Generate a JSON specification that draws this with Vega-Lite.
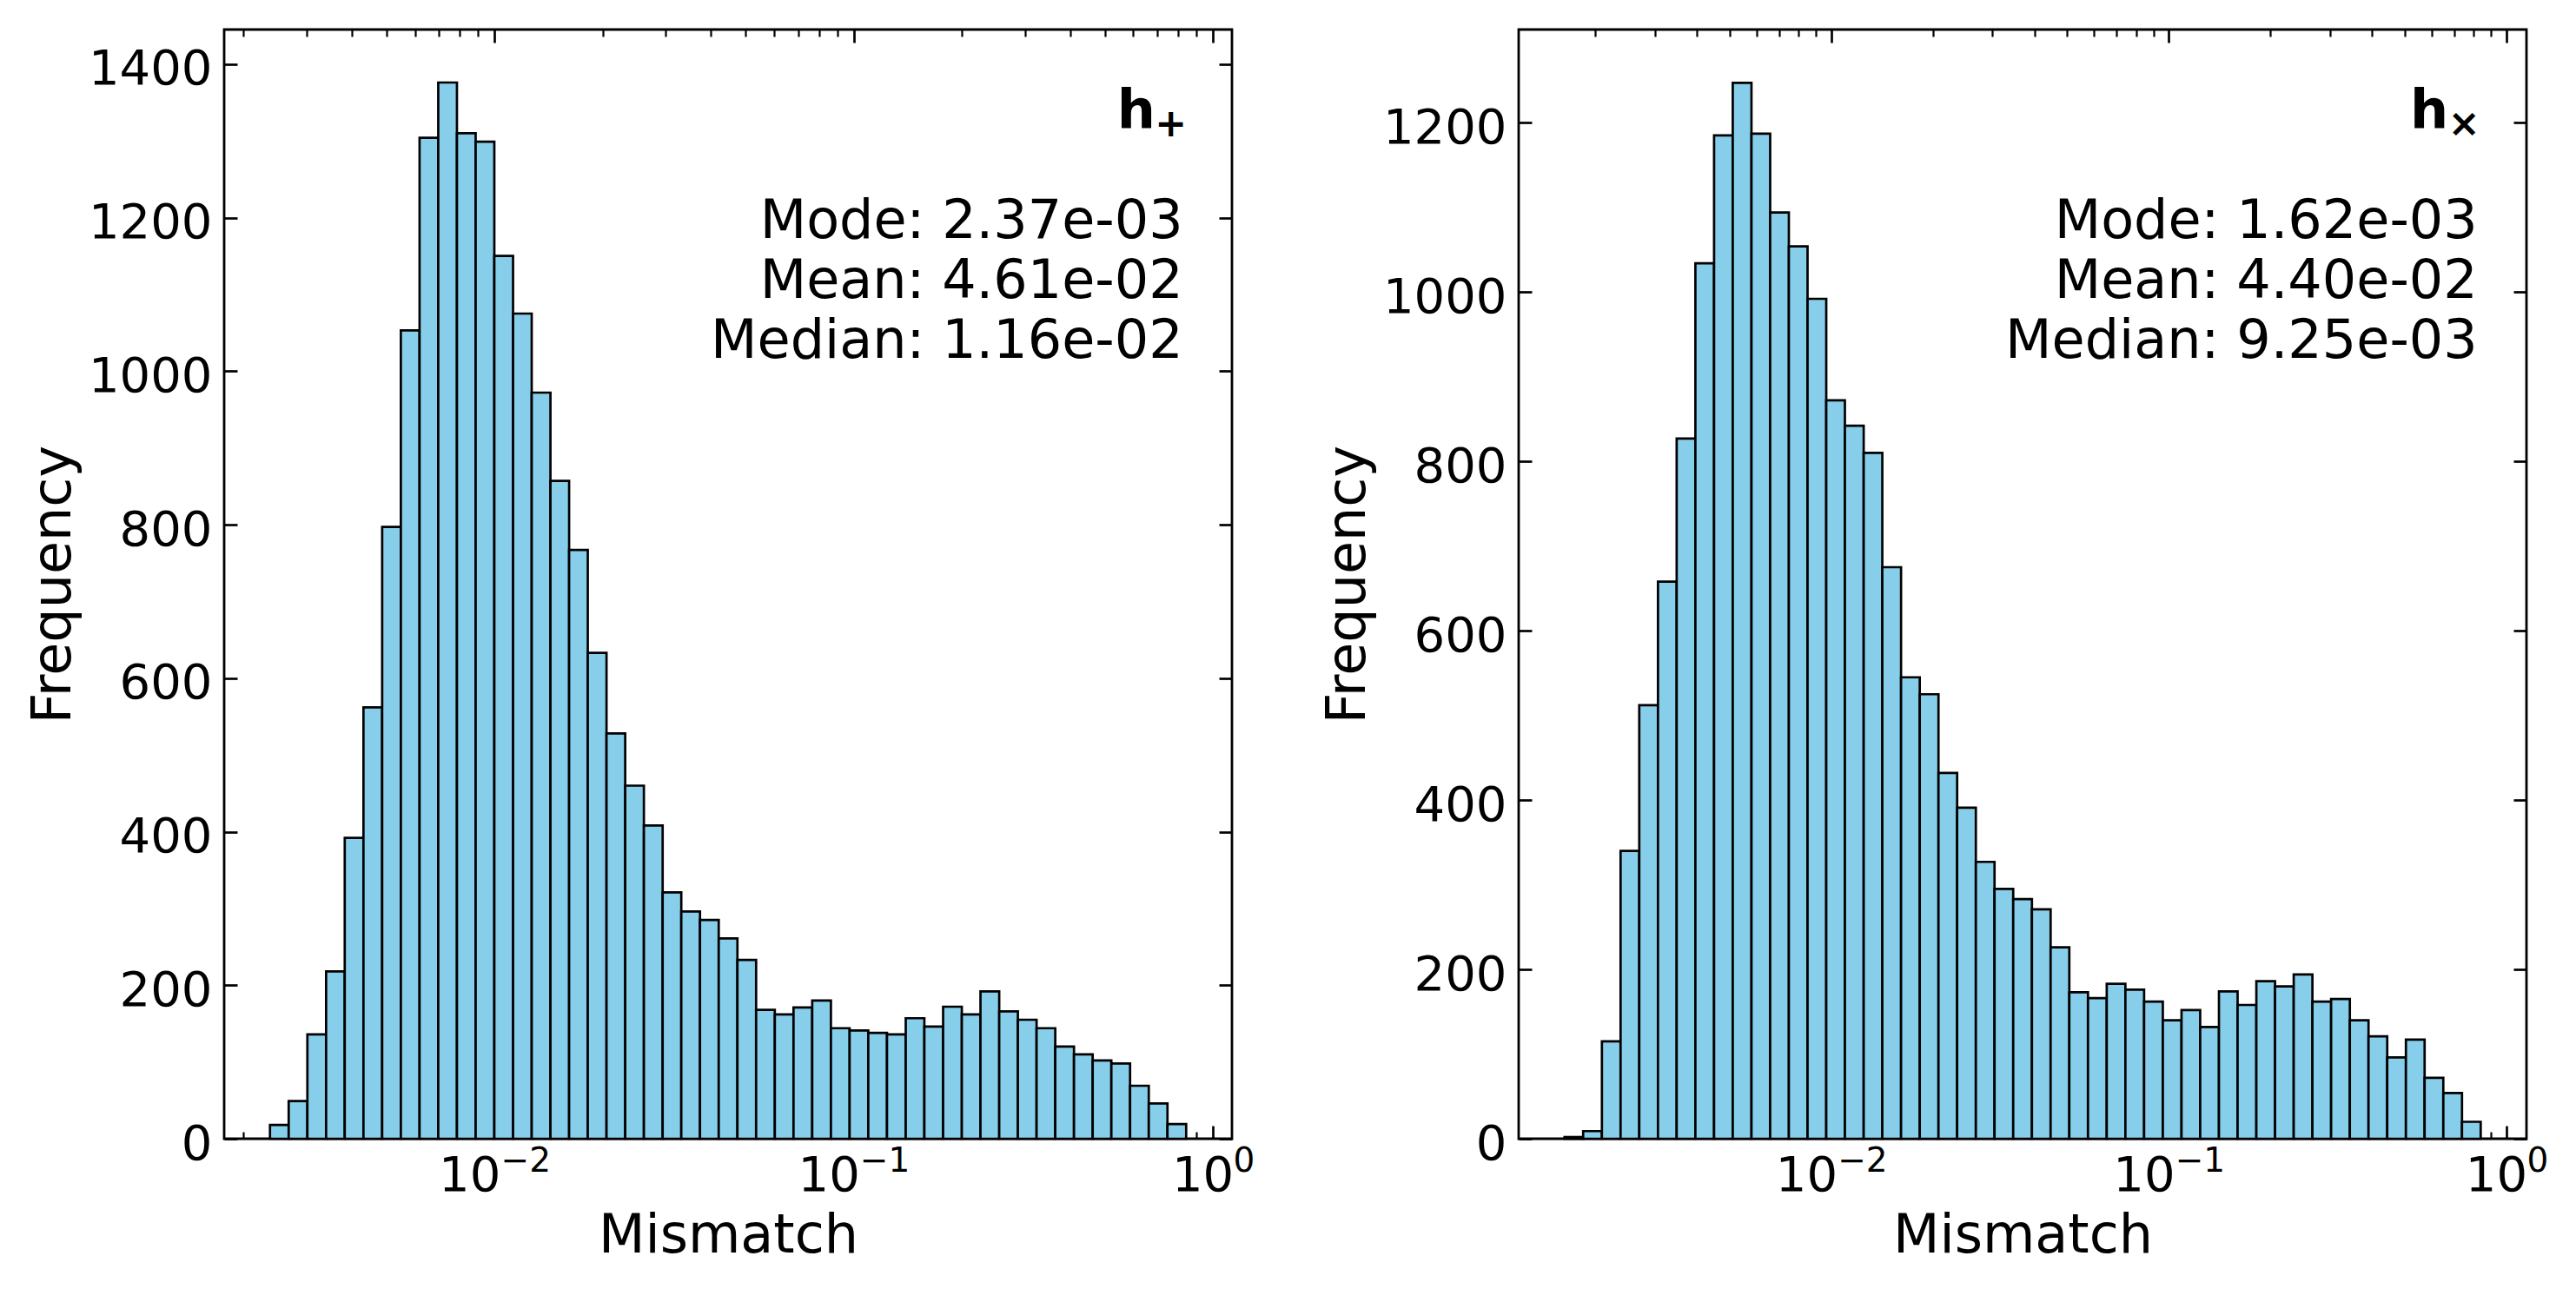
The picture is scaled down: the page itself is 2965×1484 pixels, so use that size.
{
  "$schema": "https://vega.github.io/schema/vega-lite/v6.json",
  "background": "white",
  "padding": {"left": 29, "top": 31, "right": 50, "bottom": 30},
  "bounds": "flush",
  "spacing": 330,
  "config": {
    "font": "DejaVu Sans",
    "view": {"stroke": "black", "strokeWidth": 2.8},
    "axis": {
      "labelFont": "DejaVu Sans", "titleFont": "DejaVu Sans",
      "labelColor": "black", "titleColor": "black", "tickColor": "black",
      "grid": false, "domain": false, "tickWidth": 2.7, "zindex": 1,
      "labelFontSize": 56, "titleFontSize": 62, "titleFontWeight": "normal",
      "labelFlush": false, "labelOverlap": false
    }
  },
  "datasets": {
    "hplus": [
      {"lo": 0.002370, "hi": 0.002672, "count": 18},
      {"lo": 0.002672, "hi": 0.003012, "count": 49},
      {"lo": 0.003012, "hi": 0.003396, "count": 136},
      {"lo": 0.003396, "hi": 0.003827, "count": 218},
      {"lo": 0.003827, "hi": 0.004315, "count": 392},
      {"lo": 0.004315, "hi": 0.004865, "count": 562},
      {"lo": 0.004865, "hi": 0.005484, "count": 797},
      {"lo": 0.005484, "hi": 0.006183, "count": 1053},
      {"lo": 0.006183, "hi": 0.006970, "count": 1304},
      {"lo": 0.006970, "hi": 0.007858, "count": 1376},
      {"lo": 0.007858, "hi": 0.008859, "count": 1310},
      {"lo": 0.008859, "hi": 0.009986, "count": 1299},
      {"lo": 0.009986, "hi": 0.01126, "count": 1150},
      {"lo": 0.01126, "hi": 0.01269, "count": 1075},
      {"lo": 0.01269, "hi": 0.01431, "count": 972},
      {"lo": 0.01431, "hi": 0.01613, "count": 857},
      {"lo": 0.01613, "hi": 0.01818, "count": 767},
      {"lo": 0.01818, "hi": 0.02050, "count": 633},
      {"lo": 0.02050, "hi": 0.02311, "count": 528},
      {"lo": 0.02311, "hi": 0.02605, "count": 460},
      {"lo": 0.02605, "hi": 0.02938, "count": 408},
      {"lo": 0.02938, "hi": 0.03311, "count": 321},
      {"lo": 0.03311, "hi": 0.03733, "count": 296},
      {"lo": 0.03733, "hi": 0.04209, "count": 285},
      {"lo": 0.04209, "hi": 0.04745, "count": 261},
      {"lo": 0.04745, "hi": 0.05349, "count": 233},
      {"lo": 0.05349, "hi": 0.06031, "count": 168},
      {"lo": 0.06031, "hi": 0.06798, "count": 162},
      {"lo": 0.06798, "hi": 0.07665, "count": 171},
      {"lo": 0.07665, "hi": 0.08641, "count": 180},
      {"lo": 0.08641, "hi": 0.09741, "count": 144},
      {"lo": 0.09741, "hi": 0.1098, "count": 141},
      {"lo": 0.1098, "hi": 0.1238, "count": 138},
      {"lo": 0.1238, "hi": 0.1396, "count": 136},
      {"lo": 0.1396, "hi": 0.1573, "count": 157},
      {"lo": 0.1573, "hi": 0.1774, "count": 146},
      {"lo": 0.1774, "hi": 0.2000, "count": 172},
      {"lo": 0.2000, "hi": 0.2254, "count": 162},
      {"lo": 0.2254, "hi": 0.2542, "count": 192},
      {"lo": 0.2542, "hi": 0.2865, "count": 166},
      {"lo": 0.2865, "hi": 0.3230, "count": 155},
      {"lo": 0.3230, "hi": 0.3641, "count": 144},
      {"lo": 0.3641, "hi": 0.4105, "count": 120},
      {"lo": 0.4105, "hi": 0.4628, "count": 110},
      {"lo": 0.4628, "hi": 0.5217, "count": 102},
      {"lo": 0.5217, "hi": 0.5882, "count": 98},
      {"lo": 0.5882, "hi": 0.6631, "count": 69},
      {"lo": 0.6631, "hi": 0.7475, "count": 46},
      {"lo": 0.7475, "hi": 0.8427, "count": 19}
    ],
    "hcross": [
      {"lo": 0.001620, "hi": 0.001840, "count": 2},
      {"lo": 0.001840, "hi": 0.002091, "count": 9},
      {"lo": 0.002091, "hi": 0.002375, "count": 115},
      {"lo": 0.002375, "hi": 0.002698, "count": 340},
      {"lo": 0.002698, "hi": 0.003065, "count": 512},
      {"lo": 0.003065, "hi": 0.003482, "count": 658},
      {"lo": 0.003482, "hi": 0.003956, "count": 827},
      {"lo": 0.003956, "hi": 0.004494, "count": 1034},
      {"lo": 0.004494, "hi": 0.005105, "count": 1185},
      {"lo": 0.005105, "hi": 0.005800, "count": 1247},
      {"lo": 0.005800, "hi": 0.006589, "count": 1187},
      {"lo": 0.006589, "hi": 0.007485, "count": 1094},
      {"lo": 0.007485, "hi": 0.008503, "count": 1054},
      {"lo": 0.008503, "hi": 0.009660, "count": 992},
      {"lo": 0.009660, "hi": 0.01097, "count": 872},
      {"lo": 0.01097, "hi": 0.01247, "count": 842},
      {"lo": 0.01247, "hi": 0.01416, "count": 810},
      {"lo": 0.01416, "hi": 0.01609, "count": 675},
      {"lo": 0.01609, "hi": 0.01828, "count": 545},
      {"lo": 0.01828, "hi": 0.02077, "count": 525},
      {"lo": 0.02077, "hi": 0.02359, "count": 432},
      {"lo": 0.02359, "hi": 0.02680, "count": 391},
      {"lo": 0.02680, "hi": 0.03044, "count": 327},
      {"lo": 0.03044, "hi": 0.03458, "count": 295},
      {"lo": 0.03458, "hi": 0.03929, "count": 283},
      {"lo": 0.03929, "hi": 0.04463, "count": 271},
      {"lo": 0.04463, "hi": 0.05070, "count": 226},
      {"lo": 0.05070, "hi": 0.05759, "count": 173},
      {"lo": 0.05759, "hi": 0.06544, "count": 166},
      {"lo": 0.06544, "hi": 0.07433, "count": 183},
      {"lo": 0.07433, "hi": 0.08445, "count": 176},
      {"lo": 0.08445, "hi": 0.09595, "count": 162},
      {"lo": 0.09595, "hi": 0.1090, "count": 140},
      {"lo": 0.1090, "hi": 0.1238, "count": 152},
      {"lo": 0.1238, "hi": 0.1407, "count": 132},
      {"lo": 0.1407, "hi": 0.1598, "count": 174},
      {"lo": 0.1598, "hi": 0.1816, "count": 158},
      {"lo": 0.1816, "hi": 0.2063, "count": 186},
      {"lo": 0.2063, "hi": 0.2343, "count": 180},
      {"lo": 0.2343, "hi": 0.2662, "count": 194},
      {"lo": 0.2662, "hi": 0.3024, "count": 162},
      {"lo": 0.3024, "hi": 0.3436, "count": 165},
      {"lo": 0.3436, "hi": 0.3903, "count": 140},
      {"lo": 0.3903, "hi": 0.4434, "count": 121},
      {"lo": 0.4434, "hi": 0.5037, "count": 96},
      {"lo": 0.5037, "hi": 0.5722, "count": 117},
      {"lo": 0.5722, "hi": 0.6501, "count": 72},
      {"lo": 0.6501, "hi": 0.7385, "count": 54},
      {"lo": 0.7385, "hi": 0.8389, "count": 20}
    ]
  },
  "hconcat": [
    {
      "width": 1160, "height": 1277,
      "data": {"name": "hplus"},
      "layer": [
        {
          "mark": {"type": "rect", "fill": "#87CEEB", "stroke": "black", "strokeWidth": 2.7},
          "encoding": {
            "x": {"field": "lo", "type": "quantitative",
              "scale": {"type": "log", "domain": [0.0017665, 1.1303], "nice": false},
              "axis": {"orient": "bottom", "values": [0.01, 0.1, 1], "offset": -15, "tickSize": 15,
                "labelExpr": "'10'",
                "labelOffset": {"condition": {"test": "datum.value > 0.5", "value": -12}, "value": -29},
                "labelPadding": 15, "title": "Mismatch", "titlePadding": 11}},
            "x2": {"field": "hi"},
            "y": {"field": "count", "type": "quantitative",
              "scale": {"domain": [0, 1445], "nice": false},
              "axis": {"orient": "left", "values": [0, 200, 400, 600, 800, 1000, 1200, 1400], "format": "d", "offset": -15, "tickSize": 15,
                "labelPadding": 14, "labelOffset": 6, "title": "Frequency", "titlePadding": 8}},
            "y2": {"datum": 0}
          }
        },
        {
          "mark": {"type": "point", "opacity": 0},
          "encoding": {
            "x": {"field": "lo", "type": "quantitative",
              "axis": {"orient": "top", "values": [0.01, 0.1, 1], "offset": -15, "tickSize": 15, "labels": false, "title": null}},
            "y": {"field": "count", "type": "quantitative",
              "axis": {"orient": "right", "values": [0, 200, 400, 600, 800, 1000, 1200, 1400], "offset": -15, "tickSize": 15, "labels": false, "title": null}}
          }
        },
        {
          "mark": {"type": "point", "opacity": 0},
          "encoding": {
            "x": {"field": "lo", "type": "quantitative",
              "axis": {"orient": "bottom", "values": [0.002, 0.003, 0.004, 0.005, 0.006, 0.007, 0.008, 0.009, 0.02, 0.03, 0.04, 0.05, 0.06, 0.07, 0.08, 0.09, 0.2, 0.3, 0.4, 0.5, 0.6, 0.7, 0.8, 0.9], "offset": -8, "tickSize": 8, "tickWidth": 2.2, "labels": false, "title": null}},
            "y": {"field": "count", "type": "quantitative", "axis": null}
          }
        },
        {
          "mark": {"type": "point", "opacity": 0},
          "encoding": {
            "x": {"field": "lo", "type": "quantitative",
              "axis": {"orient": "top", "values": [0.002, 0.003, 0.004, 0.005, 0.006, 0.007, 0.008, 0.009, 0.02, 0.03, 0.04, 0.05, 0.06, 0.07, 0.08, 0.09, 0.2, 0.3, 0.4, 0.5, 0.6, 0.7, 0.8, 0.9], "offset": -8, "tickSize": 8, "tickWidth": 2.2, "labels": false, "title": null}},
            "y": {"field": "count", "type": "quantitative", "axis": null}
          }
        },
        {
          "mark": {"type": "point", "opacity": 0},
          "encoding": {
            "x": {"field": "lo", "type": "quantitative",
              "axis": {"orient": "bottom", "values": [0.01, 0.1, 1], "ticks": false, "tickSize": 0, "offset": 0,
                "labelExpr": "datum.value < 0.05 ? '−2' : datum.value < 0.5 ? '−1' : '0'",
                "labelFontSize": 39, "labelOffset": 35.5, "labelPadding": 6.6, "title": null}},
            "y": {"field": "count", "type": "quantitative", "axis": null}
          }
        },
        {
          "data": {"values": [{}]},
          "mark": {"type": "text", "text": ["Mode: 2.37e-03", "Mean: 4.61e-02", "Median: 1.16e-02"], "align": "right", "baseline": "alphabetic", "fontSize": 62, "lineHeight": 69, "font": "DejaVu Sans", "color": "black"},
          "encoding": {
            "x": {"datum": 0.8257, "type": "quantitative", "axis": null},
            "y": {"datum": 1173.9, "type": "quantitative", "axis": null}
          }
        },
        {
          "data": {"values": [{}]},
          "mark": {"type": "text", "text": "h", "align": "right", "baseline": "alphabetic", "fontSize": 62, "fontWeight": "bold", "font": "DejaVu Sans", "color": "black"},
          "encoding": {
            "x": {"datum": 0.6920, "type": "quantitative", "axis": null},
            "y": {"datum": 1317.6, "type": "quantitative", "axis": null}
          }
        },
        {
          "data": {"values": [{}]},
          "mark": {"type": "text", "text": "+", "align": "right", "baseline": "alphabetic", "fontSize": 44, "fontWeight": "bold", "font": "DejaVu Sans", "color": "black"},
          "encoding": {
            "x": {"datum": 0.8464, "type": "quantitative", "axis": null},
            "y": {"datum": 1306.3, "type": "quantitative", "axis": null}
          }
        }
      ],
      "resolve": {"axis": {"x": "independent", "y": "independent"}}
    },
    {
      "width": 1160, "height": 1277,
      "data": {"name": "hcross"},
      "layer": [
        {
          "mark": {"type": "rect", "fill": "#87CEEB", "stroke": "black", "strokeWidth": 2.7},
          "encoding": {
            "x": {"field": "lo", "type": "quantitative",
              "scale": {"type": "log", "domain": [0.0011851, 1.1464], "nice": false},
              "axis": {"orient": "bottom", "values": [0.01, 0.1, 1], "offset": -15, "tickSize": 15,
                "labelExpr": "'10'",
                "labelOffset": {"condition": {"test": "datum.value > 0.5", "value": -12}, "value": -29},
                "labelPadding": 15, "title": "Mismatch", "titlePadding": 11}},
            "x2": {"field": "hi"},
            "y": {"field": "count", "type": "quantitative",
              "scale": {"domain": [0, 1310], "nice": false},
              "axis": {"orient": "left", "values": [0, 200, 400, 600, 800, 1000, 1200], "format": "d", "offset": -15, "tickSize": 15,
                "labelPadding": 14, "labelOffset": 6, "title": "Frequency", "titlePadding": 8}},
            "y2": {"datum": 0}
          }
        },
        {
          "mark": {"type": "point", "opacity": 0},
          "encoding": {
            "x": {"field": "lo", "type": "quantitative",
              "axis": {"orient": "top", "values": [0.01, 0.1, 1], "offset": -15, "tickSize": 15, "labels": false, "title": null}},
            "y": {"field": "count", "type": "quantitative",
              "axis": {"orient": "right", "values": [0, 200, 400, 600, 800, 1000, 1200], "offset": -15, "tickSize": 15, "labels": false, "title": null}}
          }
        },
        {
          "mark": {"type": "point", "opacity": 0},
          "encoding": {
            "x": {"field": "lo", "type": "quantitative",
              "axis": {"orient": "bottom", "values": [0.002, 0.003, 0.004, 0.005, 0.006, 0.007, 0.008, 0.009, 0.02, 0.03, 0.04, 0.05, 0.06, 0.07, 0.08, 0.09, 0.2, 0.3, 0.4, 0.5, 0.6, 0.7, 0.8, 0.9], "offset": -8, "tickSize": 8, "tickWidth": 2.2, "labels": false, "title": null}},
            "y": {"field": "count", "type": "quantitative", "axis": null}
          }
        },
        {
          "mark": {"type": "point", "opacity": 0},
          "encoding": {
            "x": {"field": "lo", "type": "quantitative",
              "axis": {"orient": "top", "values": [0.002, 0.003, 0.004, 0.005, 0.006, 0.007, 0.008, 0.009, 0.02, 0.03, 0.04, 0.05, 0.06, 0.07, 0.08, 0.09, 0.2, 0.3, 0.4, 0.5, 0.6, 0.7, 0.8, 0.9], "offset": -8, "tickSize": 8, "tickWidth": 2.2, "labels": false, "title": null}},
            "y": {"field": "count", "type": "quantitative", "axis": null}
          }
        },
        {
          "mark": {"type": "point", "opacity": 0},
          "encoding": {
            "x": {"field": "lo", "type": "quantitative",
              "axis": {"orient": "bottom", "values": [0.01, 0.1, 1], "ticks": false, "tickSize": 0, "offset": 0,
                "labelExpr": "datum.value < 0.05 ? '−2' : datum.value < 0.5 ? '−1' : '0'",
                "labelFontSize": 39, "labelOffset": 35.5, "labelPadding": 6.6, "title": null}},
            "y": {"field": "count", "type": "quantitative", "axis": null}
          }
        },
        {
          "data": {"values": [{}]},
          "mark": {"type": "text", "text": ["Mode: 1.62e-03", "Mean: 4.40e-02", "Median: 9.25e-03"], "align": "right", "baseline": "alphabetic", "fontSize": 62, "lineHeight": 69, "font": "DejaVu Sans", "color": "black"},
          "encoding": {
            "x": {"datum": 0.8210, "type": "quantitative", "axis": null},
            "y": {"datum": 1064.2, "type": "quantitative", "axis": null}
          }
        },
        {
          "data": {"values": [{}]},
          "mark": {"type": "text", "text": "h", "align": "right", "baseline": "alphabetic", "fontSize": 62, "fontWeight": "bold", "font": "DejaVu Sans", "color": "black"},
          "encoding": {
            "x": {"datum": 0.6730, "type": "quantitative", "axis": null},
            "y": {"datum": 1194.5, "type": "quantitative", "axis": null}
          }
        },
        {
          "data": {"values": [{}]},
          "mark": {"type": "text", "text": "×", "align": "right", "baseline": "alphabetic", "fontSize": 44, "fontWeight": "bold", "font": "DejaVu Sans", "color": "black"},
          "encoding": {
            "x": {"datum": 0.8360, "type": "quantitative", "axis": null},
            "y": {"datum": 1183.5, "type": "quantitative", "axis": null}
          }
        }
      ],
      "resolve": {"axis": {"x": "independent", "y": "independent"}}
    }
  ]
}
